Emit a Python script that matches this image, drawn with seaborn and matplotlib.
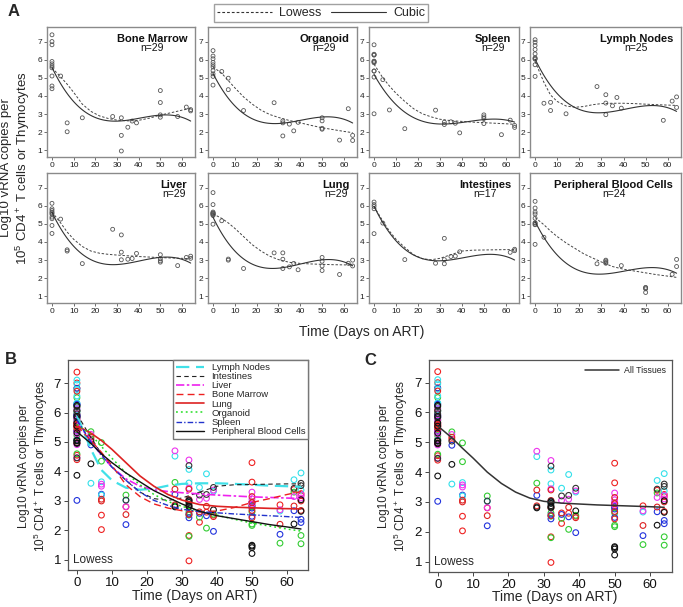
import numpy as np
import pandas as pd
import matplotlib
matplotlib.use("Agg")
import matplotlib.pyplot as plt
from matplotlib.lines import Line2D
import seaborn as sns

sns.set_theme(style="ticks")
plt.rcParams["font.family"] = ["Liberation Sans", "DejaVu Sans"]
plt.rcParams["mathtext.fontset"] = "custom"
plt.rcParams["mathtext.rm"] = "Liberation Sans"
plt.rcParams["mathtext.it"] = "Liberation Sans:italic"
plt.rcParams["mathtext.bf"] = "Liberation Sans:bold"

# ---------------- data ----------------
tissues = ["Bone Marrow", "Organoid", "Spleen", "Lymph Nodes",
           "Liver", "Lung", "Intestines", "Peripheral Blood Cells"]
n_labels = [29, 29, 29, 25, 29, 29, 17, 24]

bm_day = [0, 0, 0, 0, 0, 0, 0, 0, 0, 0, 4, 7, 7, 14, 28, 32, 32, 32, 35, 37, 39, 50, 50, 50, 50, 58, 62, 64, 64]
bm_val = [7.37, 7.0, 6.82, 5.9, 5.77, 5.65, 5.55, 5.1, 4.55, 4.4, 5.1, 2.52, 2.03, 2.8, 2.87, 2.8, 1.83, 0.97,
          2.28, 2.62, 2.52, 4.3, 3.64, 2.96, 2.83, 2.87, 3.39, 3.18, 3.25]

org_day = [0, 0, 0, 0, 0, 0, 0, 0, 0, 0, 4, 7, 7, 14, 28, 32, 32, 32, 35, 37, 39, 50, 50, 50, 50, 58, 62, 64, 64]
org_val = [6.5, 6.2, 6.05, 5.85, 5.72, 5.6, 5.4, 5.22, 5.08, 4.6, 5.35, 4.98, 4.35, 3.2, 3.63, 2.63, 2.52, 1.8,
           2.45, 2.08, 2.55, 2.8, 2.63, 2.22, 2.17, 1.57, 3.3, 1.83, 1.55]

spl_day = [0, 0, 0, 0, 0, 0, 0, 0, 0, 0, 0, 0, 4, 7, 14, 28, 32, 32, 35, 37, 39, 50, 50, 50, 50, 58, 62, 64, 64]
spl_val = [6.82, 6.3, 6.27, 6.25, 5.92, 5.9, 5.87, 5.83, 5.38, 5.37, 5.04, 3.02, 4.9, 3.23, 2.2, 3.22, 2.56, 2.43,
           2.58, 2.5, 1.97, 2.96, 2.85, 2.76, 2.48, 1.87, 2.67, 2.38, 2.27]

ln_day = [0, 0, 0, 0, 0, 0, 0, 0, 0, 0, 4, 7, 7, 14, 28, 32, 32, 32, 35, 37, 39, 58, 62, 64, 64]
ln_val = [7.1, 6.96, 6.78, 6.56, 6.32, 6.1, 6.06, 6.03, 5.72, 5.08, 3.6, 3.65, 3.2, 3.02, 4.52, 4.07, 3.61, 2.97,
          3.46, 3.92, 3.33, 2.66, 3.72, 3.95, 3.37]

liv_day = [0, 0, 0, 0, 0, 0, 0, 0, 0, 0, 4, 7, 7, 14, 28, 32, 32, 32, 35, 37, 39, 50, 50, 50, 50, 58, 62, 64, 64]
liv_val = [6.13, 5.83, 5.74, 5.65, 5.59, 5.52, 5.37, 5.28, 4.91, 4.47, 5.26, 3.57, 3.5, 2.81, 4.7, 4.39, 3.44, 3.02,
           3.05, 3.09, 3.37, 3.3, 3.07, 2.96, 2.89, 2.7, 3.15, 3.22, 3.1]

lung_day = [0, 0, 0, 0, 0, 0, 0, 0, 0, 0, 4, 7, 7, 14, 28, 32, 32, 32, 35, 37, 39, 50, 50, 50, 50, 58, 62, 64, 64]
lung_val = [6.72, 6.06, 5.65, 5.6, 5.59, 5.55, 5.54, 5.5, 5.46, 4.98, 5.17, 3.06, 3.0, 2.54, 3.4, 3.4, 3.05, 2.54,
            2.63, 2.82, 2.47, 3.15, 2.94, 2.68, 2.43, 2.21, 2.83, 3.0, 2.68]

int_day = [0, 0, 0, 0, 0, 4, 14, 28, 32, 32, 32, 35, 37, 39, 62, 64, 64]
int_val = [6.2, 6.06, 5.96, 5.83, 4.46, 5.04, 3.03, 2.83, 4.2, 3.03, 2.8, 3.2, 3.22, 3.46, 3.43, 3.6, 3.52]

pbc_day = [0, 0, 0, 0, 0, 0, 0, 0, 0, 0, 4, 28, 32, 32, 32, 32, 39, 50, 50, 50, 50, 62, 64, 64]
pbc_val = [6.24, 5.87, 5.65, 5.54, 5.31, 5.06, 5.04, 4.97, 4.95, 3.87, 4.26, 2.8, 3.0, 2.95, 2.87, 2.83, 2.7,
           1.5, 1.47, 1.42, 1.22, 2.22, 3.04, 2.65]

# lowess curves at these days
low_days = [0, 4, 7, 10, 14, 18, 22, 26, 30, 35, 40, 45, 50, 55, 60, 64]
bm_low = [5.55, 5.05, 4.65, 4.2, 3.55, 3.15, 2.9, 2.76, 2.67, 2.63, 2.66, 2.78, 2.95, 3.08, 3.22, 3.32]
org_low = [5.6, 5.25, 4.85, 4.45, 3.95, 3.55, 3.22, 2.98, 2.82, 2.65, 2.52, 2.38, 2.25, 2.15, 2.05, 1.98]
spl_low = [5.75, 5.0, 4.55, 4.15, 3.7, 3.3, 3.02, 2.85, 2.72, 2.64, 2.6, 2.56, 2.53, 2.5, 2.47, 2.44]
ln_low = [5.9, 4.75, 4.05, 3.7, 3.45, 3.38, 3.42, 3.52, 3.58, 3.6, 3.6, 3.58, 3.55, 3.52, 3.5, 3.48]
liv_low = [5.65, 5.05, 4.55, 4.15, 3.75, 3.5, 3.38, 3.32, 3.28, 3.24, 3.2, 3.17, 3.14, 3.12, 3.1, 3.08]
lung_low = [5.55, 5.3, 5.05, 4.75, 4.3, 3.85, 3.5, 3.22, 3.03, 2.88, 2.82, 2.79, 2.77, 2.75, 2.74, 2.73]
int_low = [5.95, 5.15, 4.6, 4.15, 3.7, 3.3, 3.08, 3.02, 3.1, 3.3, 3.5, 3.55, 3.56, 3.57, 3.58, 3.58]
pbc_low = [5.35, 4.95, 4.6, 4.3, 3.95, 3.65, 3.35, 3.12, 2.9, 2.65, 2.5, 2.4, 2.3, 2.2, 2.12, 2.05]
all_low = [5.55, 5.15, 4.8, 4.47, 4.0, 3.62, 3.33, 3.13, 3.02, 2.96, 2.93, 2.9, 2.88, 2.86, 2.84, 2.82]

# cubic curves at these days
cub_days = [0, 5, 10, 15, 20, 25, 30, 35, 40, 45, 50, 55, 60, 64]
bm_cub = [5.55, 4.5, 3.72, 3.15, 2.82, 2.65, 2.6, 2.64, 2.75, 2.88, 2.98, 2.97, 2.82, 2.6]
org_cub = [5.2, 4.25, 3.5, 2.95, 2.62, 2.48, 2.47, 2.55, 2.66, 2.78, 2.85, 2.85, 2.72, 2.5]
spl_cub = [5.1, 4.3, 3.6, 3.05, 2.7, 2.48, 2.4, 2.43, 2.52, 2.65, 2.75, 2.78, 2.7, 2.5]
ln_cub = [6.05, 5.0, 4.0, 3.5, 3.35, 3.2, 3.12, 3.12, 3.2, 3.32, 3.45, 3.5, 3.4, 3.12]
liv_cub = [5.65, 4.55, 3.75, 3.2, 2.92, 2.8, 2.78, 2.85, 2.95, 3.05, 3.13, 3.15, 3.05, 2.85]
lung_cub = [5.45, 4.2, 3.45, 2.95, 2.72, 2.6, 2.6, 2.67, 2.78, 2.9, 2.98, 3.0, 2.9, 2.72]
int_cub = [5.9, 4.95, 4.1, 3.5, 3.15, 3.0, 2.95, 3.0, 3.1, 3.22, 3.32, 3.35, 3.25, 2.95]
pbc_cub = [5.1, 4.1, 3.3, 2.75, 2.42, 2.25, 2.22, 2.28, 2.38, 2.5, 2.58, 2.6, 2.5, 2.25]

obs = {
    "Bone Marrow": (bm_day, bm_val), "Organoid": (org_day, org_val),
    "Spleen": (spl_day, spl_val), "Lymph Nodes": (ln_day, ln_val),
    "Liver": (liv_day, liv_val), "Lung": (lung_day, lung_val),
    "Intestines": (int_day, int_val), "Peripheral Blood Cells": (pbc_day, pbc_val),
}
low = {"Bone Marrow": bm_low, "Organoid": org_low, "Spleen": spl_low, "Lymph Nodes": ln_low,
       "Liver": liv_low, "Lung": lung_low, "Intestines": int_low, "Peripheral Blood Cells": pbc_low}
cub = {"Bone Marrow": bm_cub, "Organoid": org_cub, "Spleen": spl_cub, "Lymph Nodes": ln_cub,
       "Liver": liv_cub, "Lung": lung_cub, "Intestines": int_cub, "Peripheral Blood Cells": pbc_cub}

df = pd.concat([pd.DataFrame({"tissue": t, "day": obs[t][0], "value": obs[t][1]}) for t in tissues],
               ignore_index=True)

legend_order = ["Lymph Nodes", "Intestines", "Liver", "Bone Marrow", "Lung",
                "Organoid", "Spleen", "Peripheral Blood Cells"]
pt_colors = {"Lymph Nodes": "#33e0ea", "Intestines": "#333333", "Liver": "#ee33ee",
             "Bone Marrow": "#ee2222", "Lung": "#dd2222", "Organoid": "#33cc33",
             "Spleen": "#2233dd", "Peripheral Blood Cells": "#111111"}
line_styles = {
    "Lymph Nodes": dict(color="#40e0e8", lw=1.6, ls=(0, (6, 3))),
    "Intestines": dict(color="#222222", lw=0.8, ls=(0, (4, 3))),
    "Liver": dict(color="#ee22ee", lw=1.2, ls=(0, (5, 1.5, 1.5, 1.5))),
    "Bone Marrow": dict(color="#ee2020", lw=1.0, ls=(0, (5, 3))),
    "Lung": dict(color="#dd2222", lw=1.2, ls="-"),
    "Organoid": dict(color="#22dd22", lw=1.1, ls=(0, (1.2, 2))),
    "Spleen": dict(color="#2233cc", lw=1.0, ls=(0, (4, 1.5, 1, 1.5))),
    "Peripheral Blood Cells": dict(color="#111111", lw=1.0, ls="-"),
}

# ---------------- figure ----------------
W, H = 683, 607
fig = plt.figure(figsize=(W / 100, H / 100), dpi=100)


def rect(l, t, r, b):
    return [l / W, 1 - b / H, (r - l) / W, (b - t) / H]


def hollow(coll, lw):
    fc = coll.get_facecolors()
    coll.set_edgecolors(fc)
    coll.set_facecolors("none")
    coll.set_linewidths(lw)


ylab = "Log10 vRNA copies per\n10$^5$ CD4$^+$ T cells or Thymocytes"
xticks = [0, 10, 20, 30, 40, 50, 60]
yticks = [1, 2, 3, 4, 5, 6, 7]

# ---- Panel A ----
cols = [(47, 195), (208, 357), (369, 519), (530, 681)]
rows = [(27, 157), (173, 303)]
for i, t in enumerate(tissues):
    r, c = divmod(i, 4)
    ax = fig.add_axes(rect(cols[c][0], rows[r][0], cols[c][1], rows[r][1]))
    sub = df[df.tissue == t]
    sns.scatterplot(data=sub, x="day", y="value", ax=ax, s=8, color="#555555", legend=False)
    hollow(ax.collections[-1], 0.6)
    sns.lineplot(x=low_days, y=low[t], ax=ax, color="#444444", lw=0.7,
                 linestyle=(0, (2.5, 1.8)), estimator=None, errorbar=None)
    sns.regplot(x=cub_days, y=cub[t], order=3, scatter=False, ci=None, ax=ax,
                line_kws=dict(color="#333333", lw=0.8))
    ax.set_xlim(-2.3, 66)
    ax.set_ylim(0.64, 7.8)
    ax.set_xticks(xticks)
    ax.set_yticks(yticks)
    ax.set_xlabel("")
    ax.set_ylabel("")
    ax.tick_params(labelsize=6, length=2, width=0.6, pad=1.5, colors="#555555", labelcolor="#222222")
    for sp in ax.spines.values():
        sp.set_color("#8a8a8a")
        sp.set_linewidth(1.0)
    tt = ax.text(0.948, 0.945, t, transform=ax.transAxes, ha="right", va="top",
                 fontsize=8, fontweight="bold", color="#111111")
    ax.annotate(f"n={n_labels[i]}", xy=(0.5, 0.0), xycoords=tt, xytext=(0, 0.5),
                textcoords="offset points", ha="center", va="top", fontsize=7.5, color="#111111")

fig.legend(handles=[Line2D([], [], color="#333333", lw=0.8, ls=(0, (2.5, 1.8))),
                    Line2D([], [], color="#333333", lw=0.8)],
           labels=["Lowess", "Cubic"], loc="center", bbox_to_anchor=(321 / W, 1 - 13 / H),
           ncol=2, fontsize=9, handlelength=4.4, handletextpad=0.6, columnspacing=0.7,
           frameon=True, fancybox=False, edgecolor="#8a8a8a", borderpad=0.25)

fig.text(16 / W, 1 - 168 / H, ylab, rotation=90, ha="center", va="center",
         fontsize=9.5, multialignment="center")
fig.text(362 / W, 1 - 332 / H, "Time (Days on ART)", ha="center", va="center", fontsize=10)
fig.text(8 / W, 1 - 4 / H, "A", ha="left", va="top", fontsize=12, fontweight="bold")
fig.text(5 / W, 1 - 352 / H, "B", ha="left", va="top", fontsize=12, fontweight="bold")
fig.text(364 / W, 1 - 353 / H, "C", ha="left", va="top", fontsize=12, fontweight="bold")


def style_big(ax):
    ax.set_xlim(-2.55, 66)
    ax.set_ylim(0.66, 7.78)
    ax.set_xticks(xticks)
    ax.set_yticks(yticks)
    ax.set_xlabel("")
    ax.set_ylabel("")
    ax.tick_params(labelsize=9.5, length=3, width=0.7, pad=2, colors="#444444", labelcolor="#111111")
    for sp in ax.spines.values():
        sp.set_color("#555555")
        sp.set_linewidth(0.9)
    ax.text(0.022, 0.048, "Lowess", transform=ax.transAxes, ha="left", va="center", fontsize=8.5)


# ---- Panel B ----
axB = fig.add_axes(rect(68, 360, 308, 570))
sns.scatterplot(data=df, x="day", y="value", hue="tissue", hue_order=tissues,
                palette=pt_colors, s=17, ax=axB, legend=False)
hollow(axB.collections[-1], 0.8)
handles = []
for t in legend_order:
    st = line_styles[t]
    sns.lineplot(x=low_days, y=low[t], ax=axB, color=st["color"], lw=st["lw"],
                 linestyle=st["ls"], estimator=None, errorbar=None)
    handles.append(Line2D([], [], color=st["color"], lw=st["lw"], ls=st["ls"]))
style_big(axB)
axB.legend(handles=handles, labels=legend_order, loc="upper right", borderaxespad=0,
           fontsize=6.8, handlelength=3.0, handletextpad=0.8, labelspacing=0.02,
           borderpad=0.3, frameon=True, fancybox=False, edgecolor="#777777", framealpha=1)
fig.text(34 / W, 1 - 466 / H, ylab, rotation=90, ha="center", va="center",
         fontsize=8.5, multialignment="center")
fig.text(195 / W, 1 - 596 / H, "Time (Days on ART)", ha="center", va="center", fontsize=10)

# ---- Panel C ----
axC = fig.add_axes(rect(429, 360, 672, 572))
sns.scatterplot(data=df, x="day", y="value", hue="tissue", hue_order=tissues,
                palette=pt_colors, s=17, ax=axC, legend=False)
hollow(axC.collections[-1], 0.8)
sns.lineplot(x=low_days, y=all_low, ax=axC, color="#333333", lw=1.1,
             estimator=None, errorbar=None, label="All Tissues")
style_big(axC)
axC.set_xlim(-2.46, 66.2)
axC.set_ylim(0.65, 7.76)
axC.legend(loc="upper right", frameon=False, fontsize=6.3, handlelength=3.8,
           handletextpad=0.6, borderaxespad=0.3)
fig.text(394 / W, 1 - 466 / H, ylab, rotation=90, ha="center", va="center",
         fontsize=8.5, multialignment="center")
fig.text(555 / W, 1 - 597 / H, "Time (Days on ART)", ha="center", va="center", fontsize=10)

fig.savefig("out.png", dpi=100)
